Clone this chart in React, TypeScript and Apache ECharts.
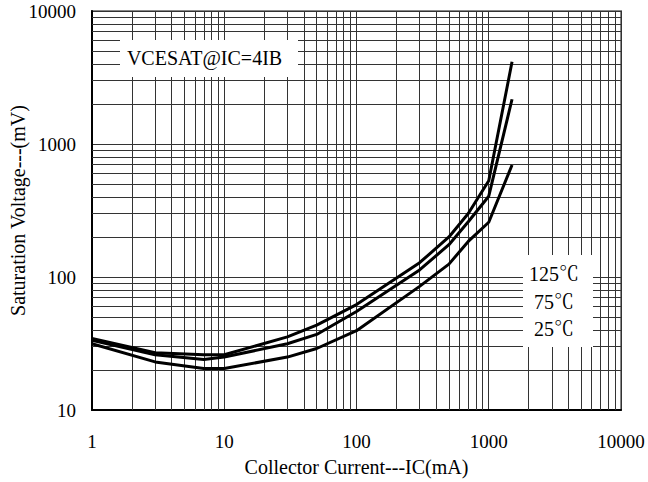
import React, { useEffect, useRef } from "react";
import * as echarts from "echarts";

// Collector current (mA)
const currents = [1, 3, 7, 10, 30, 50, 100, 300, 500, 700, 1000, 1500];
// Saturation voltage (mV) per temperature
const v125 = [34.5, 27, 26, 26, 35.5, 43.5, 62, 128, 200, 300, 530, 4150];
const v75 = [33.5, 26, 24, 25, 31.5, 37, 55, 113, 175, 260, 405, 2170];
const v25 = [31.5, 23, 20.5, 20.5, 25, 29, 39.5, 85, 125, 185, 258, 695];

const seriesNames = ["125℃", "75℃", "25℃"];
const xAxisTitle = "Collector Current---IC(mA)";
const yAxisTitle = "Saturation Voltage---(mV)";
const noteText = "VCESAT@IC=4IB";

const FONT = "Liberation Serif, Noto Serif CJK SC, serif";

function minorLines(fromExp: number, toExp: number): number[] {
  const out: number[] = [];
  for (let e = fromExp; e < toExp; e++) {
    for (let m = 2; m <= 9; m++) out.push(m * Math.pow(10, e));
  }
  return out;
}

export default function App() {
  const ref = useRef<HTMLDivElement>(null);
  useEffect(() => {
    if (!ref.current) return;
    const chart = echarts.init(ref.current, undefined, { renderer: "svg" });
    const xMinor = minorLines(0, 4);
    const yMinor = minorLines(1, 4);
    const zip = (ys: number[]) => currents.map((x, i) => [x, ys[i]]);
    const curveStyle = { color: "#000", width: 3 };
    const fmt = (v: number) => String(Math.round(v));
    chart.setOption({
      animation: false,
      backgroundColor: "#fff",
      grid: {
        left: 92,
        top: 11,
        right: 27,
        bottom: 72,
        outerBoundsMode: "none",
        containLabel: false,
        show: true,
        borderColor: "#888",
        borderWidth: 2,
        backgroundColor: "transparent",
      },
      xAxis: {
        type: "log",
        logBase: 10,
        min: 1,
        max: 10000,
        name: xAxisTitle,
        nameLocation: "middle",
        nameGap: 47,
        nameMoveOverlap: false,
        nameTextStyle: { fontFamily: FONT, fontSize: 20, color: "#000" },
        axisLine: { show: true, lineStyle: { color: "#000", width: 2 } },
        axisTick: { show: false },
        axisLabel: { fontFamily: FONT, fontSize: 19, color: "#000", margin: 22, formatter: fmt },
        splitLine: { show: true, lineStyle: { color: "#333", width: 1 } },
      },
      yAxis: {
        type: "log",
        logBase: 10,
        min: 10,
        max: 10000,
        name: yAxisTitle,
        nameLocation: "middle",
        nameGap: 64,
        nameMoveOverlap: false,
        nameTextStyle: { fontFamily: FONT, fontSize: 20, color: "#000" },
        axisLine: { show: true, lineStyle: { color: "#000", width: 2 } },
        axisTick: { show: false },
        axisLabel: { fontFamily: FONT, fontSize: 19, color: "#000", margin: 16, formatter: fmt },
        splitLine: { show: true, lineStyle: { color: "#333", width: 1 } },
      },
      series: [
        {
          type: "line",
          name: "grid",
          data: [],
          z: 1,
          silent: true,
          markLine: {
            silent: true,
            symbol: "none",
            animation: false,
            label: { show: false },
            lineStyle: { color: "#333", width: 1, type: "solid" },
            data: [
              ...xMinor.map((v) => ({ xAxis: v })),
              ...yMinor.map((v) => ({ yAxis: v })),
            ],
          },
        },
        {
          type: "line",
          name: seriesNames[0],
          data: zip(v125),
          showSymbol: false,
          lineStyle: curveStyle,
          itemStyle: { color: "#000" },
          z: 5,
        },
        {
          type: "line",
          name: seriesNames[1],
          data: zip(v75),
          showSymbol: false,
          lineStyle: curveStyle,
          itemStyle: { color: "#000" },
          z: 5,
        },
        {
          type: "line",
          name: seriesNames[2],
          data: zip(v25),
          showSymbol: false,
          lineStyle: curveStyle,
          itemStyle: { color: "#000" },
          z: 5,
        },
      ],
      graphic: [
        {
          type: "rect",
          z: 100,
          shape: { x: 120, y: 40, width: 178, height: 37 },
          style: { fill: "#fff" },
        },
        {
          type: "text",
          z: 101,
          x: 204.5,
          y: 58,
          style: {
            text: noteText,
            fontFamily: FONT,
            fontSize: 20,
            fill: "#000",
            align: "center",
            verticalAlign: "middle",
          },
        },
        {
          type: "rect",
          z: 100,
          shape: { x: 523, y: 255, width: 70, height: 92 },
          style: { fill: "#fff" },
        },
        ...seriesNames.map((t, i) => ({
          type: "text",
          z: 101,
          x: 554,
          y: [273.5, 301.5, 328.5][i],
          style: {
            text: t,
            fontFamily: FONT,
            fontSize: 20,
            fill: "#000",
            align: "center",
            verticalAlign: "middle",
          },
        })),
      ],
    });
    return () => chart.dispose();
  }, []);
  return (
    <div
      ref={ref}
      style={{ position: "absolute", left: 0, top: 0, width: 648, height: 482, background: "#fff" }}
    />
  );
}
